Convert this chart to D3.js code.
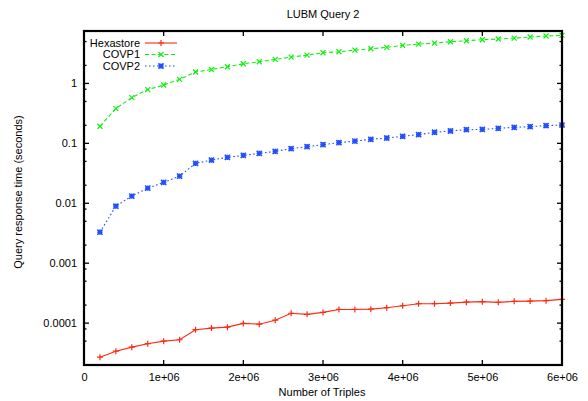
<!DOCTYPE html>
<html>
<head>
<meta charset="utf-8">
<script src="https://cdn.jsdelivr.net/npm/d3@7"></script>
<style>
  html, body { margin: 0; padding: 0; background: #fff; }
  svg { display: block; font-family: "Liberation Sans", Arial, Helvetica, sans-serif; }
</style>
</head>
<body>
<svg id="chart" width="588" height="401"></svg>
<script>
// Number of triples loaded (x) for each measurement
const triples = [200000, 400000, 600000, 800000, 1000000, 1200000, 1400000, 1600000, 1800000, 2000000,
  2200000, 2400000, 2600000, 2800000, 3000000, 3200000, 3400000, 3600000, 3800000, 4000000,
  4200000, 4400000, 4600000, 4800000, 5000000, 5200000, 5400000, 5600000, 5800000, 6000000];

// Query response times in seconds
const hexastore = [2.7e-5, 3.4e-5, 3.97e-5, 4.53e-5, 5.0e-5, 5.28e-5, 7.76e-5, 8.25e-5, 8.57e-5, 9.9e-5,
  9.6e-5, 1.12e-4, 1.46e-4, 1.40e-4, 1.51e-4, 1.69e-4, 1.69e-4, 1.71e-4, 1.81e-4, 1.95e-4,
  2.11e-4, 2.11e-4, 2.16e-4, 2.24e-4, 2.28e-4, 2.22e-4, 2.31e-4, 2.33e-4, 2.37e-4, 2.49e-4];
const covp1 = [0.193, 0.38, 0.58, 0.79, 0.94, 1.17, 1.55, 1.71, 1.9, 2.13,
  2.3, 2.52, 2.75, 2.97, 3.25, 3.38, 3.6, 3.79, 4.0, 4.32,
  4.54, 4.72, 4.96, 5.16, 5.36, 5.51, 5.72, 5.95, 6.18, 6.35];
const covp2 = [0.00329, 0.00895, 0.01315, 0.0179, 0.0223, 0.0284, 0.0463, 0.0526, 0.0583, 0.063,
  0.068, 0.0735, 0.0815, 0.088, 0.095, 0.1027, 0.109, 0.1166, 0.1227, 0.131,
  0.14, 0.153, 0.161, 0.169, 0.171, 0.178, 0.185, 0.19, 0.198, 0.202];

const seriesNames = ["Hexastore", "COVP1", "COVP2"];
const xTicks = [0, 1e6, 2e6, 3e6, 4e6, 5e6, 6e6];
const xTickLabels = ["0", "1e+06", "2e+06", "3e+06", "4e+06", "5e+06", "6e+06"];
const yTicks = [0.0001, 0.001, 0.01, 0.1, 1];
const yTickLabels = ["0.0001", "0.001", "0.01", "0.1", "1"];

const titleText = "LUBM Query 2";
const xTitle = "Number of Triples";
const yTitle = "Query response time (seconds)";

const svg = d3.select("#chart");
const plotLeft = 84, plotRight = 562, plotTop = 31, plotBottom = 365;

const x = d3.scaleLinear().domain([0, 6e6]).range([plotLeft, plotRight]);
const y = d3.scaleLog().domain([2e-5, 7.5]).range([plotBottom, plotTop]);

// minor ticks at 2, 5 and 8 times each power of ten
const yMinor = [];
for (let e = -5; e <= 0; e++) {
  [2, 5, 8].forEach(m => {
    const v = m * Math.pow(10, e);
    if (v >= y.domain()[0] && v <= y.domain()[1]) yMinor.push(v);
  });
}

const fontSize = 11;

// Tick marks (pointing into the plot, mirrored on opposite sides)
const tickG = svg.append("g").attr("stroke", "#000").attr("stroke-width", 1.3);
xTicks.forEach(v => {
  tickG.append("line").attr("x1", x(v)).attr("x2", x(v)).attr("y1", plotBottom).attr("y2", plotBottom - 5);
  tickG.append("line").attr("x1", x(v)).attr("x2", x(v)).attr("y1", plotTop).attr("y2", plotTop + 5);
});
yTicks.forEach(v => {
  tickG.append("line").attr("x1", plotLeft).attr("x2", plotLeft + 5).attr("y1", y(v)).attr("y2", y(v));
  tickG.append("line").attr("x1", plotRight).attr("x2", plotRight - 5).attr("y1", y(v)).attr("y2", y(v));
});
yMinor.forEach(v => {
  tickG.append("line").attr("x1", plotLeft).attr("x2", plotLeft + 2.5).attr("y1", y(v)).attr("y2", y(v));
  tickG.append("line").attr("x1", plotRight).attr("x2", plotRight - 2.5).attr("y1", y(v)).attr("y2", y(v));
});

// Tick labels via d3 axes (tick lines hidden, labels only)
const xAxis = d3.axisBottom(x).tickValues(xTicks).tickSize(0).tickPadding(8)
  .tickFormat((d, i) => xTickLabels[i]);
const gx = svg.append("g").attr("transform", `translate(0,${plotBottom})`).call(xAxis);
const yAxis = d3.axisLeft(y).tickValues(yTicks).tickSize(0).tickPadding(7)
  .tickFormat((d, i) => yTickLabels[i]);
const gy = svg.append("g").attr("transform", `translate(${plotLeft},0)`).call(yAxis);
[gx, gy].forEach(g => {
  g.select(".domain").remove();
  g.selectAll("text").attr("font-size", fontSize).attr("fill", "#000")
    .attr("font-family", "'Liberation Sans', Arial, sans-serif");
});

// Titles
svg.append("text").attr("x", 323).attr("y", 17.5).attr("text-anchor", "middle")
  .attr("font-size", fontSize).text(titleText);
svg.append("text").attr("x", 322).attr("y", 396).attr("text-anchor", "middle")
  .attr("font-size", fontSize).text(xTitle);
svg.append("text").attr("transform", "translate(22,192) rotate(-90)").attr("text-anchor", "middle")
  .attr("font-size", fontSize).text(yTitle);

// Marker shapes
function markerPath(kind, s) {
  if (kind === "plus") return `M${-s},0H${s}M0,${-s}V${s}`;
  if (kind === "cross") return `M${-s},${-s}L${s},${s}M${-s},${s}L${s},${-s}`;
  return `M${-s},0H${s}M0,${-s}V${s}M${-s},${-s}L${s},${s}M${-s},${s}L${s},${-s}`;
}

const series = [
  { name: seriesNames[0], values: hexastore, color: "#ff2a10", dash: null, marker: "plus", size: 3 },
  { name: seriesNames[1], values: covp1, color: "#11f011", dash: "4,2.5", marker: "cross", size: 2.5 },
  { name: seriesNames[2], values: covp2, color: "#2250ff", dash: "1.6,2.4", marker: "star", size: 2.6 }
];

const line = d3.line().x(d => x(d[0])).y(d => y(d[1]));
const plot = svg.append("g");
series.forEach(s => {
  const pts = triples.map((t, i) => [t, s.values[i]]);
  plot.append("path").datum(pts).attr("d", line).attr("fill", "none")
    .attr("stroke", s.color).attr("stroke-width", 1.1)
    .attr("stroke-dasharray", s.dash);
  plot.selectAll(null).data(pts).enter().append("path")
    .attr("transform", d => `translate(${x(d[0])},${y(d[1])})`)
    .attr("d", markerPath(s.marker, s.size))
    .attr("stroke", s.color).attr("stroke-width", s.marker === "star" ? 1.6 : 1.2)
    .attr("fill", "none");
});

// Legend
const legend = svg.append("g");
series.forEach((s, i) => {
  const ly = 43 + i * 11.5;
  legend.append("text").attr("x", 140).attr("y", ly).attr("dy", "0.35em")
    .attr("text-anchor", "end").attr("font-size", fontSize).text(s.name);
  legend.append("line").attr("x1", 145).attr("x2", 177).attr("y1", ly).attr("y2", ly)
    .attr("stroke", s.color).attr("stroke-width", 1.1).attr("stroke-dasharray", s.dash);
  legend.append("path").attr("transform", `translate(161,${ly})`)
    .attr("d", markerPath(s.marker, s.size))
    .attr("stroke", s.color).attr("stroke-width", s.marker === "star" ? 1.6 : 1.2)
    .attr("fill", "none");
});

// Plot frame
svg.append("rect").attr("x", plotLeft).attr("y", plotTop).attr("width", plotRight - plotLeft).attr("height", plotBottom - plotTop)
  .attr("fill", "none").attr("stroke", "#000").attr("stroke-width", 2.2);
</script>
</body>
</html>
